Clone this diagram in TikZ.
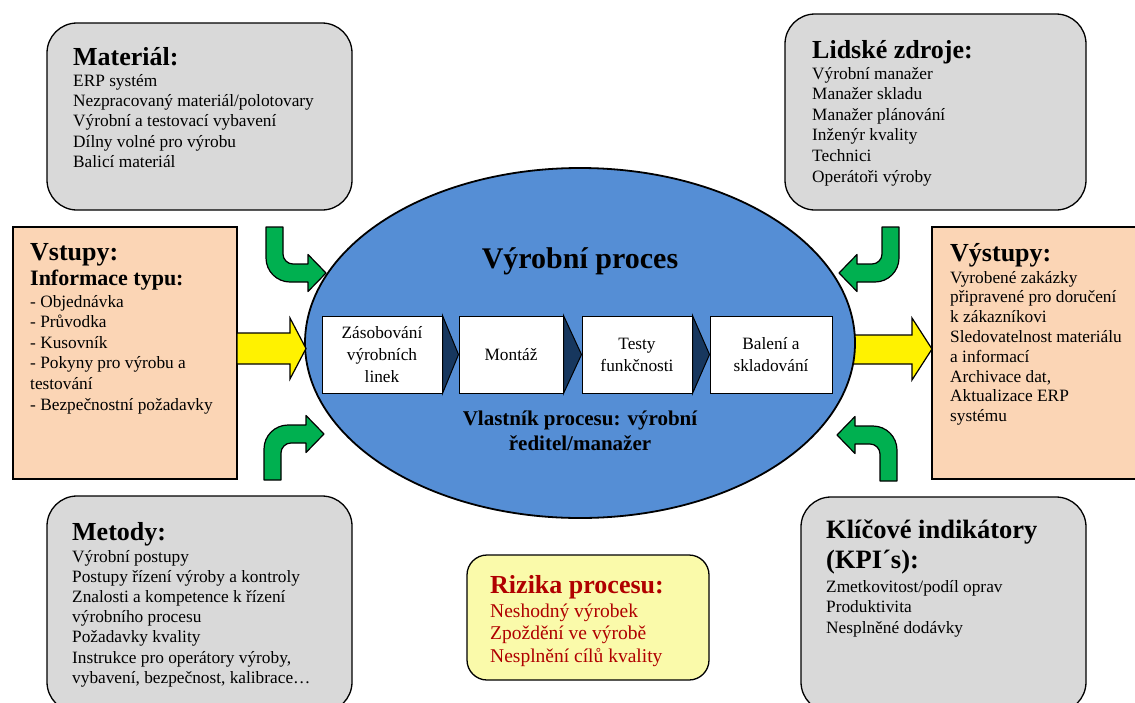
\documentclass[tikz,border=0pt]{standalone}
\usepackage{fontspec}
\setmainfont{Liberation Serif}
\usetikzlibrary{shapes.geometric,calc}
\definecolor{boxgray}{HTML}{D9D9D9}
\definecolor{peach}{HTML}{FBD5B5}
\definecolor{procblue}{HTML}{558ED5}
\definecolor{chevnavy}{HTML}{17375E}
\definecolor{arrgreen}{HTML}{00B050}
\definecolor{risky}{HTML}{FAFAAA}
\definecolor{riskred}{HTML}{B00000}
\newcommand\fbody{\fontsize{17.3}{20.4}\selectfont}
\newcommand\fhead{\fontsize{26}{30}\selectfont\bfseries}
\newcommand\mylist[1]{\begin{tabular}[t]{@{}l@{}}#1\end{tabular}}
\begin{document}
\begin{tikzpicture}[x=1pt,y=-1pt,
  graybox/.style={draw=black, line width=1.3pt, fill=boxgray, rounded corners=30pt, inner sep=0pt},
  peachbox/.style={draw=black, line width=1.3pt, fill=peach, inner sep=0pt},
  stepbox/.style={draw=black, line width=1pt, fill=white, inner sep=0pt, align=center, minimum height=77pt, font=\fontsize{17.3}{22}\selectfont},
  chev/.style={draw=black, line width=1pt, fill=chevnavy},
  greenarr/.style={draw=black, line width=1.2pt, fill=arrgreen, line join=round},
  yellowarr/.style={draw=black, line width=1.2pt, fill=yellow, line join=miter},
  hd/.style={anchor=base west, inner sep=0pt, font=\fhead},
  bd/.style={anchor=base west, inner sep=0pt, font=\fbody}]
\useasboundingbox (0,0) rectangle (1135,702);
\clip (0,0) rectangle (1135,702);

% side boxes
\node[graybox, minimum width=305pt, minimum height=187pt] (mat) at (199.5,116.5) {};
\node[graybox, minimum width=301pt, minimum height=196pt] (lid) at (935.5,112) {};
\node[graybox, minimum width=305pt, minimum height=216pt] (met) at (199.5,604) {};
\node[graybox, minimum width=285pt, minimum height=215pt] (kpi) at (943.5,604.5) {};
\node[peachbox, minimum width=224pt, minimum height=252pt] (vst) at (125,353) {};
\node[peachbox, minimum width=204pt, minimum height=252pt] (vys) at (1034,353) {};
\node[draw=black, line width=1.3pt, fill=risky, rounded corners=20pt, minimum width=242pt, minimum height=125pt, inner sep=0pt] (riz) at (588,617.5) {};

% right yellow arrow (under the ellipse)
\draw[yellowarr] (846,335) -- (912,335) -- (912,318) -- (932,349) -- (912,380) -- (912,364) -- (846,364) -- cycle;

% central process
\node[ellipse, draw=black, line width=1.8pt, fill=procblue, minimum width=550pt, minimum height=350pt, inner sep=0pt] (proc) at (580,343) {};
\node[anchor=base, inner sep=0pt, font=\fontsize{30}{34}\selectfont\bfseries] (title) at (580,268) {Výrobní proces};
\node[anchor=base, inner sep=0pt, font=\fontsize{21}{25.5}\selectfont\bfseries] (owner) at (580,425)
  {\begin{tabular}[t]{@{}c@{}}Vlastník procesu: výrobní\\ ředitel/manažer\end{tabular}};

\node[stepbox, minimum width=120pt] (b1) at (382,354.5) {Zásobování\\výrobních\\linek};
\node[stepbox, minimum width=104pt] (b2) at (511,354.5) {Montáž};
\node[stepbox, minimum width=110pt] (b3) at (637,354.5) {Testy\\funkčnosti};
\node[stepbox, minimum width=122pt] (b4) at (771,354.5) {Balení a\\skladování};
\draw[chev] (b1.north east) -- (b2.west) -- (b1.south east) -- cycle;
\draw[chev] (b2.north east) -- (b3.west) -- (b2.south east) -- cycle;
\draw[chev] (b3.north east) -- (b4.west) -- (b3.south east) -- cycle;

% left yellow arrow
\draw[yellowarr] (237,333) -- (290,333) -- (290,318) -- (306,348.5) -- (290,379) -- (290,364) -- (237,364) -- cycle;

% green curved arrows
\foreach \px/\py/\sx/\sy in {326/273/1/1, 324/434/1/-1, 839/273/-1/1, 837/435/-1/-1}{
  \begin{scope}[shift={(\px,\py)}, xscale=\sx, yscale=\sy]
    \draw[greenarr] (-60,-46) -- (-43,-46) -- (-43,-19)
      .. controls (-43,-13.5) and (-38.5,-9) .. (-33,-9) -- (-18,-9) -- (-18,-18.5)
      -- (0,0) -- (-18,18.5) -- (-18,9) -- (-36,9)
      .. controls (-49.2,9) and (-60,-1.8) .. (-60,-15) -- cycle;
  \end{scope}
}

% texts
\node[hd] (matH) at (73,65) {Materiál:};
\node[bd] (matT) at (73,86) {\mylist{ERP systém\\ Nezpracovaný materiál/polotovary\\ Výrobní a testovací vybavení\\ Dílny volné pro výrobu\\ Balicí materiál}};

\node[hd] (lidH) at (812,58) {Lidské zdroje:};
\node[bd, font=\fontsize{17.3}{20.6}\selectfont] (lidT) at (812,79) {\mylist{Výrobní manažer\\ Manažer skladu\\ Manažer plánování\\ Inženýr kvality\\ Technici\\ Operátoři výroby}};

\node[hd] (vstH) at (30,260) {Vstupy:};
\node[hd, font=\fontsize{22}{26}\selectfont\bfseries] (vstS) at (30,285) {Informace typu:};
\node[bd, font=\fontsize{17.3}{20.6}\selectfont] (vstT) at (30,307) {\mylist{- Objednávka\\ - Průvodka\\ - Kusovník\\ - Pokyny pro výrobu a\\ testování\\ - Bezpečnostní požadavky}};

\node[hd] (vysH) at (950,261) {Výstupy:};
\node[bd, font=\fontsize{17.3}{19.8}\selectfont] (vysT) at (950,283) {\mylist{Vyrobené zakázky\\ připravené pro doručení\\ k zákazníkovi\\ Sledovatelnost materiálu\\ a informací\\ Archivace dat,\\ Aktualizace ERP\\ systému}};

\node[hd] (metH) at (72,540) {Metody:};
\node[bd, font=\fontsize{17.3}{20.2}\selectfont] (metT) at (72,562) {\mylist{Výrobní postupy\\ Postupy řízení výroby a kontroly\\ Znalosti a kompetence k řízení\\ výrobního procesu\\ Požadavky kvality\\ Instrukce pro operátory výroby,\\ vybavení, bezpečnost, kalibrace…}};

\node[hd, text=riskred] (rizH) at (490,593) {Rizika procesu:};
\node[bd, text=riskred, font=\fontsize{19.5}{22.6}\selectfont] (rizT) at (490,617) {\mylist{Neshodný výrobek\\ Zpoždění ve výrobě\\ Nesplnění cílů kvality}};

\node[hd, font=\fontsize{26.5}{30}\selectfont\bfseries] (kpiH) at (826,538) {\mylist{Klíčové indikátory\\ (KPI´s):}};
\node[bd, font=\fontsize{17.3}{20.5}\selectfont] (kpiT) at (826,592) {\mylist{Zmetkovitost/podíl oprav\\ Produktivita\\ Nesplněné dodávky}};
\end{tikzpicture}
\end{document}
